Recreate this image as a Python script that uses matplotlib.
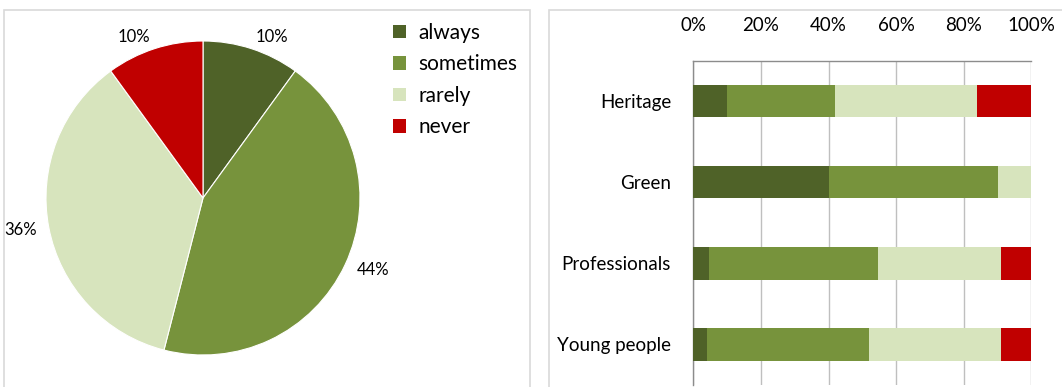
import matplotlib.pyplot as plt
from matplotlib.patches import Rectangle, Patch
import numpy as np

plt.rcParams['font.family'] = ['Lato', 'DejaVu Sans']
plt.rcParams['font.size'] = 11

# answer categories and colours
answers = ['always', 'sometimes', 'rarely', 'never']
colors = ['#4F6228', '#77933C', '#D7E4BD', '#C00000']

# overall shares (pie)
pie_vals = [10, 44, 36, 10]

# shares per group (stacked bars), percent
groups = ['Heritage', 'Green', 'Professionals', 'Young people']
always = [10, 40, 4.5, 4]
sometimes = [32, 50, 50, 48]
rarely = [42, 10, 36.4, 39]
never = [16, 0, 9.1, 9]

W, H = 1062, 387
fig = plt.figure(figsize=(W / 100, H / 100), dpi=100)

def px(x0, y0, w, h):
    # pixel box (from top-left) -> figure fraction
    return [x0 / W, 1 - (y0 + h) / H, w / W, h / H]

# panel frames
for x0, x1 in [(4, 530), (549, 1100)]:
    fig.add_artist(Rectangle((x0 / W, -0.05), (x1 - x0) / W, 1.05 - 10 / H,
                             transform=fig.transFigure, fill=False,
                             edgecolor='#D9D9D9', linewidth=1.2))

# ---------- pie ----------
cx, cy, r = 203, 198, 157
ax1 = fig.add_axes(px(cx - r, cy - r, 2 * r, 2 * r))
wedges, texts = ax1.pie(pie_vals, colors=colors, startangle=90, counterclock=False,
                        labels=[f'{v}%' for v in pie_vals], labeldistance=1.08,
                        wedgeprops=dict(edgecolor='white', linewidth=0.8))
for t in texts:
    t.set_fontsize(12)
    t.set_color('#000000')
    t.set_clip_on(False)
ax1.set_xlim(-1, 1)
ax1.set_ylim(-1, 1)
ax1.set_aspect('equal')

handles = [Patch(facecolor=c, edgecolor='none') for c in colors]
fig.legend(handles, answers, loc='upper left', bbox_to_anchor=(393 / W, 1 - 23 / H),
           frameon=False, fontsize=15, handlelength=0.6, handleheight=0.6,
           handletextpad=0.6, labelspacing=0.55, borderaxespad=0, borderpad=0)

# ---------- stacked bars ----------
ax2 = fig.add_axes(px(693.3, 60.5, 338, 324.5))
y = np.arange(len(groups))
left = np.zeros(len(groups))
for vals, c in zip([always, sometimes, rarely, never], colors):
    ax2.barh(y, vals, left=left, height=0.4, color=c, edgecolor='none', zorder=3)
    left += np.array(vals)

ax2.set_xlim(0, 100)
ax2.set_ylim(len(groups) - 0.5, -0.5)
ax2.set_yticks(y)
ax2.set_yticklabels(groups, fontsize=13.5)
ax2.set_xticks(np.arange(0, 101, 20))
ax2.set_xticklabels([f'{v}%' for v in range(0, 101, 20)], fontsize=13.5)
ax2.xaxis.tick_top()
ax2.tick_params(axis='x', length=0, pad=19)
ax2.tick_params(axis='y', length=0, pad=16)
ax2.grid(axis='x', color='#BFBFBF', linewidth=1, zorder=0)
for s in ['bottom', 'right']:
    ax2.spines[s].set_visible(False)
for s in ['top', 'left']:
    ax2.spines[s].set_color('#8C8C8C')
    ax2.spines[s].set_linewidth(1)

fig.savefig('out.png', dpi=100)
